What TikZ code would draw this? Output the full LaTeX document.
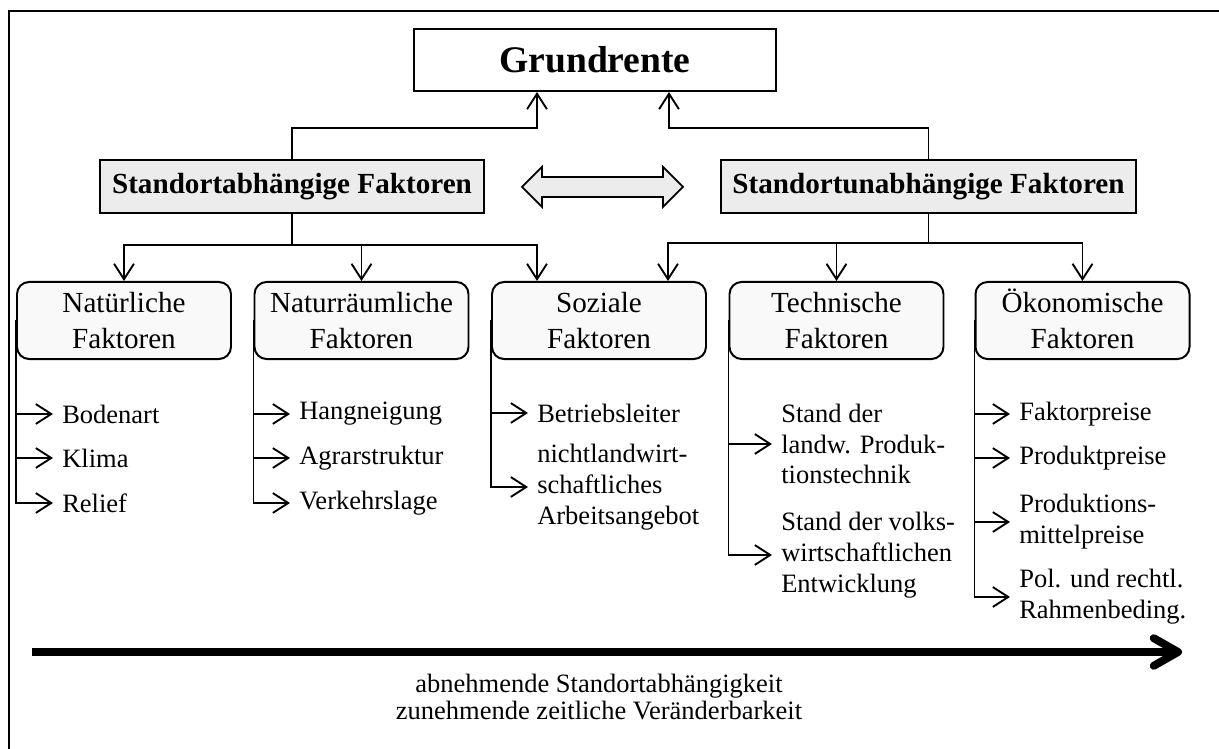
\documentclass[tikz,border=0pt]{standalone}
\usepackage{fontspec}
\setmainfont{Liberation Serif}
\usetikzlibrary{arrows.meta,calc}

\begin{document}
\begin{tikzpicture}[x=0.4528pt,y=-0.4528pt]
\useasboundingbox (0,0) rectangle (1219,749);
\tikzstyle{titel}=[draw,line width=0.9pt,minimum width=163.9pt,minimum height=28.1pt,font=\fontsize{17}{20}\selectfont\bfseries];
\tikzstyle{haupt}=[draw,line width=1pt,fill=gray!15,minimum height=24pt,font=\fontsize{13.2}{16}\selectfont\bfseries];
\tikzstyle{gruppe}=[draw,line width=0.9pt,fill=gray!5,rounded corners=5.5pt,minimum width=96.9pt,minimum height=34.9pt,align=center,font=\fontsize{13.2}{16.3}\selectfont];
\tikzstyle{punkt}=[anchor=west,inner xsep=4pt,inner ysep=1pt,align=left,font=\fontsize{12}{14}\selectfont];
\tikzstyle{pfeil}=[line width=0.85pt,-{Straight Barb[length=7pt,width=9pt]}];

% Rahmen
\draw[line width=1pt] (1219,11) -- (9,11) -- (9,749);

\node[titel] (grund) at (595,60) {Grundrente};
\node[haupt,minimum width=173.9pt] (abh) at (292,186.5) {Standortabhängige Faktoren};
\node[haupt,minimum width=187.9pt] (unabh) at (928.5,186.5) {Standortunabhängige Faktoren};
\draw[line width=0.8pt,fill=gray!15] (522,187) -- (542,167) -- (542,177) -- (663,177) -- (663,167) -- (683,187)
  -- (663,207) -- (663,197) -- (542,197) -- (542,207) -- cycle;

\node[gruppe] (nat) at (124,320.5) {Natürliche\\Faktoren};
\node[gruppe] (natr) at (361.5,320.5) {Naturräumliche\\Faktoren};
\node[gruppe] (soz) at (599,320.5) {Soziale\\Faktoren};
\node[gruppe] (tech) at (836.5,320.5) {Technische\\Faktoren};
\node[gruppe] (oek) at (1082.5,320.5) {\smash{Ö}konomische\\Faktoren};

\draw[pfeil] (abh.north) -- ++(0,-31) -| ($(grund.south)+(-58,0)$);
\draw[pfeil] (unabh.north) -- ++(0,-31) -| ($(grund.south)+(74,0)$);

\draw[line width=0.85pt] (abh.south) -- (292,245) coordinate (lmitte);
\draw[pfeil] (lmitte) -| (nat.north);
\draw[pfeil] (lmitte) -| (natr.north);
\draw[pfeil] (lmitte) -| ($(soz.north)+(-62,0)$);
\draw[line width=0.85pt] (unabh.south) -- (928.5,243) coordinate (rmitte);
\draw[pfeil] (rmitte) -| ($(soz.north)+(69,0)$);
\draw[pfeil] (rmitte) -| (tech.north);
\draw[pfeil] (rmitte) -| (oek.north);

% Einzelfaktoren
\node[punkt] (bod) at (53,414) {Bodenart};
\node[punkt] (kli) at (53,458) {Klima};
\node[punkt] (rel) at (53,503) {Relief};
\node[punkt] (han) at (290,414) {Hangneigung};
\node[punkt] (agr) at (290,458) {Agrarstruktur};
\node[punkt] (ver) at (290,503) {Verkehrslage};
\node[punkt] (bet) at (528,413) {Betriebsleiter};
\node[punkt] (arb) at (528,487) {nichtlandwirt-\\schaftliches\\Arbeitsangebot};
\node[punkt] (pro) at (772,444) {Stand der\\landw. Produk-\\tionstechnik};
\node[punkt] (vol) at (772,555) {Stand der volks-\\wirtschaftlichen\\Entwicklung};
\node[punkt] (fak) at (1010,414) {Faktorpreise};
\node[punkt] (prp) at (1010,458) {Produktpreise};
\node[punkt] (mit) at (1010,522) {Produktions-\\mittelpreise};
\node[punkt] (rah) at (1010,597) {Pol. und rechtl.\\Rahmenbeding.};

\draw[pfeil] (nat.west) |- (bod.west);
\draw[pfeil] (nat.west) |- (kli.west);
\draw[pfeil] (nat.west) |- (rel.west);
\draw[pfeil] (natr.west) |- (han.west);
\draw[pfeil] (natr.west) |- (agr.west);
\draw[pfeil] (natr.west) |- (ver.west);
\draw[pfeil] (soz.west) |- (bet.west);
\draw[pfeil] (soz.west) |- (arb.west);
\draw[pfeil] (tech.west) |- (pro.west);
\draw[pfeil] (tech.west) |- (vol.west);
\draw[pfeil] (oek.west) |- (fak.west);
\draw[pfeil] (oek.west) |- (prp.west);
\draw[pfeil] (oek.west) |- (mit.west);
\draw[pfeil] (oek.west) |- (rah.west);

% Richtung
\coordinate (start) at (32,652);
\coordinate (ziel) at (1182,652);
\draw[line width=3.6pt,-{Straight Barb[length=11pt,width=12.5pt,round]}] (start) -- (ziel);
\node[align=center,font=\fontsize{12}{12.2}\selectfont] (hinweis) at (599,697)
  {abnehmende Standortabhängigkeit\\zunehmende zeitliche Veränderbarkeit};
\end{tikzpicture}
\end{document}
